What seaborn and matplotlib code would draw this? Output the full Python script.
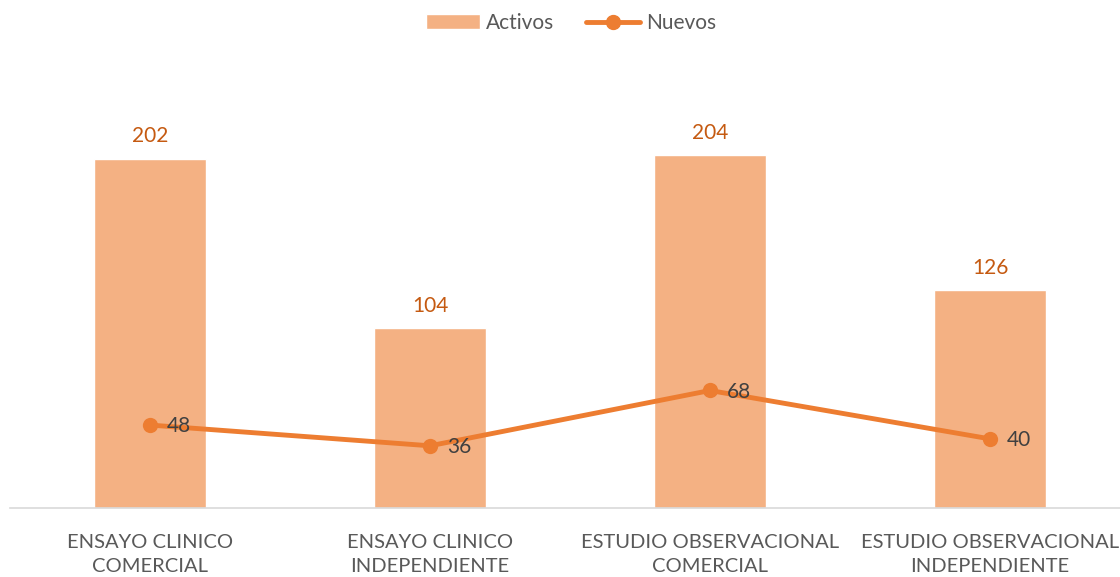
import pandas as pd
import matplotlib
matplotlib.use("Agg")
import matplotlib.pyplot as plt
from matplotlib.lines import Line2D
from matplotlib.patches import Patch
import seaborn as sns

categorias = ["ENSAYO CLINICO\nCOMERCIAL", "ENSAYO CLINICO\nINDEPENDIENTE",
              "ESTUDIO OBSERVACIONAL\nCOMERCIAL", "ESTUDIO OBSERVACIONAL\nINDEPENDIENTE"]
activos = [202, 104, 204, 126]
nuevos = [48, 36, 68, 40]

COLOR_BAR = "#F4B183"
COLOR_LINE = "#ED7D31"
COLOR_BAR_LBL = "#C55A11"
COLOR_TXT = "#404040"
COLOR_TICK = "#595959"

sns.set_style("white")
plt.rcParams["font.family"] = ["Lato", "DejaVu Sans"]

df = pd.DataFrame({"categoria": categorias, "activos": activos, "nuevos": nuevos})

fig = plt.figure(figsize=(11.2, 5.77), dpi=100)
ax = fig.add_axes([10 / 1120, 1 - 508 / 577, 1120 / 1120, 432 / 577])

sns.barplot(data=df, x="categoria", y="activos", color=COLOR_BAR, width=0.4,
            saturation=1, ax=ax)
sns.lineplot(x=list(range(len(categorias))), y=df["nuevos"], color=COLOR_LINE,
             lw=3.5, marker="o", markersize=11, markeredgewidth=0, ax=ax)

for i, (a, n) in enumerate(zip(activos, nuevos)):
    ax.annotate(str(a), (i, a), xytext=(0, 9), textcoords="offset points",
                ha="center", va="bottom", fontsize=15, color=COLOR_BAR_LBL)
    ax.annotate(str(n), (i, n), xytext=(12, -1), textcoords="offset points",
                ha="left", va="center", fontsize=15, color=COLOR_TXT)

ax.set_xlim(-0.5, 3.5)
ax.set_ylim(0, 250)
ax.set_xlabel("")
ax.set_ylabel("")
ax.set_yticks([])
ax.tick_params(axis="x", length=0, pad=19, labelsize=14.5, labelcolor=COLOR_TICK)
for lbl in ax.get_xticklabels():
    lbl.set_linespacing(1.45)
for s in ["top", "right", "left"]:
    ax.spines[s].set_visible(False)
ax.spines["bottom"].set_color("#D9D9D9")
ax.spines["bottom"].set_linewidth(1.2)

handles = [Patch(facecolor=COLOR_BAR, label="Activos"),
           Line2D([0], [0], color=COLOR_LINE, lw=3.5, marker="o", markersize=10,
                  label="Nuevos")]
fig.legend(handles=handles, loc="center", bbox_to_anchor=(0.51, 1 - 23 / 577),
           ncol=2, frameon=False, fontsize=15, labelcolor=COLOR_TICK,
           handlelength=2.6, handletextpad=0.3, columnspacing=1.5)

fig.savefig("out.png", dpi=100)
